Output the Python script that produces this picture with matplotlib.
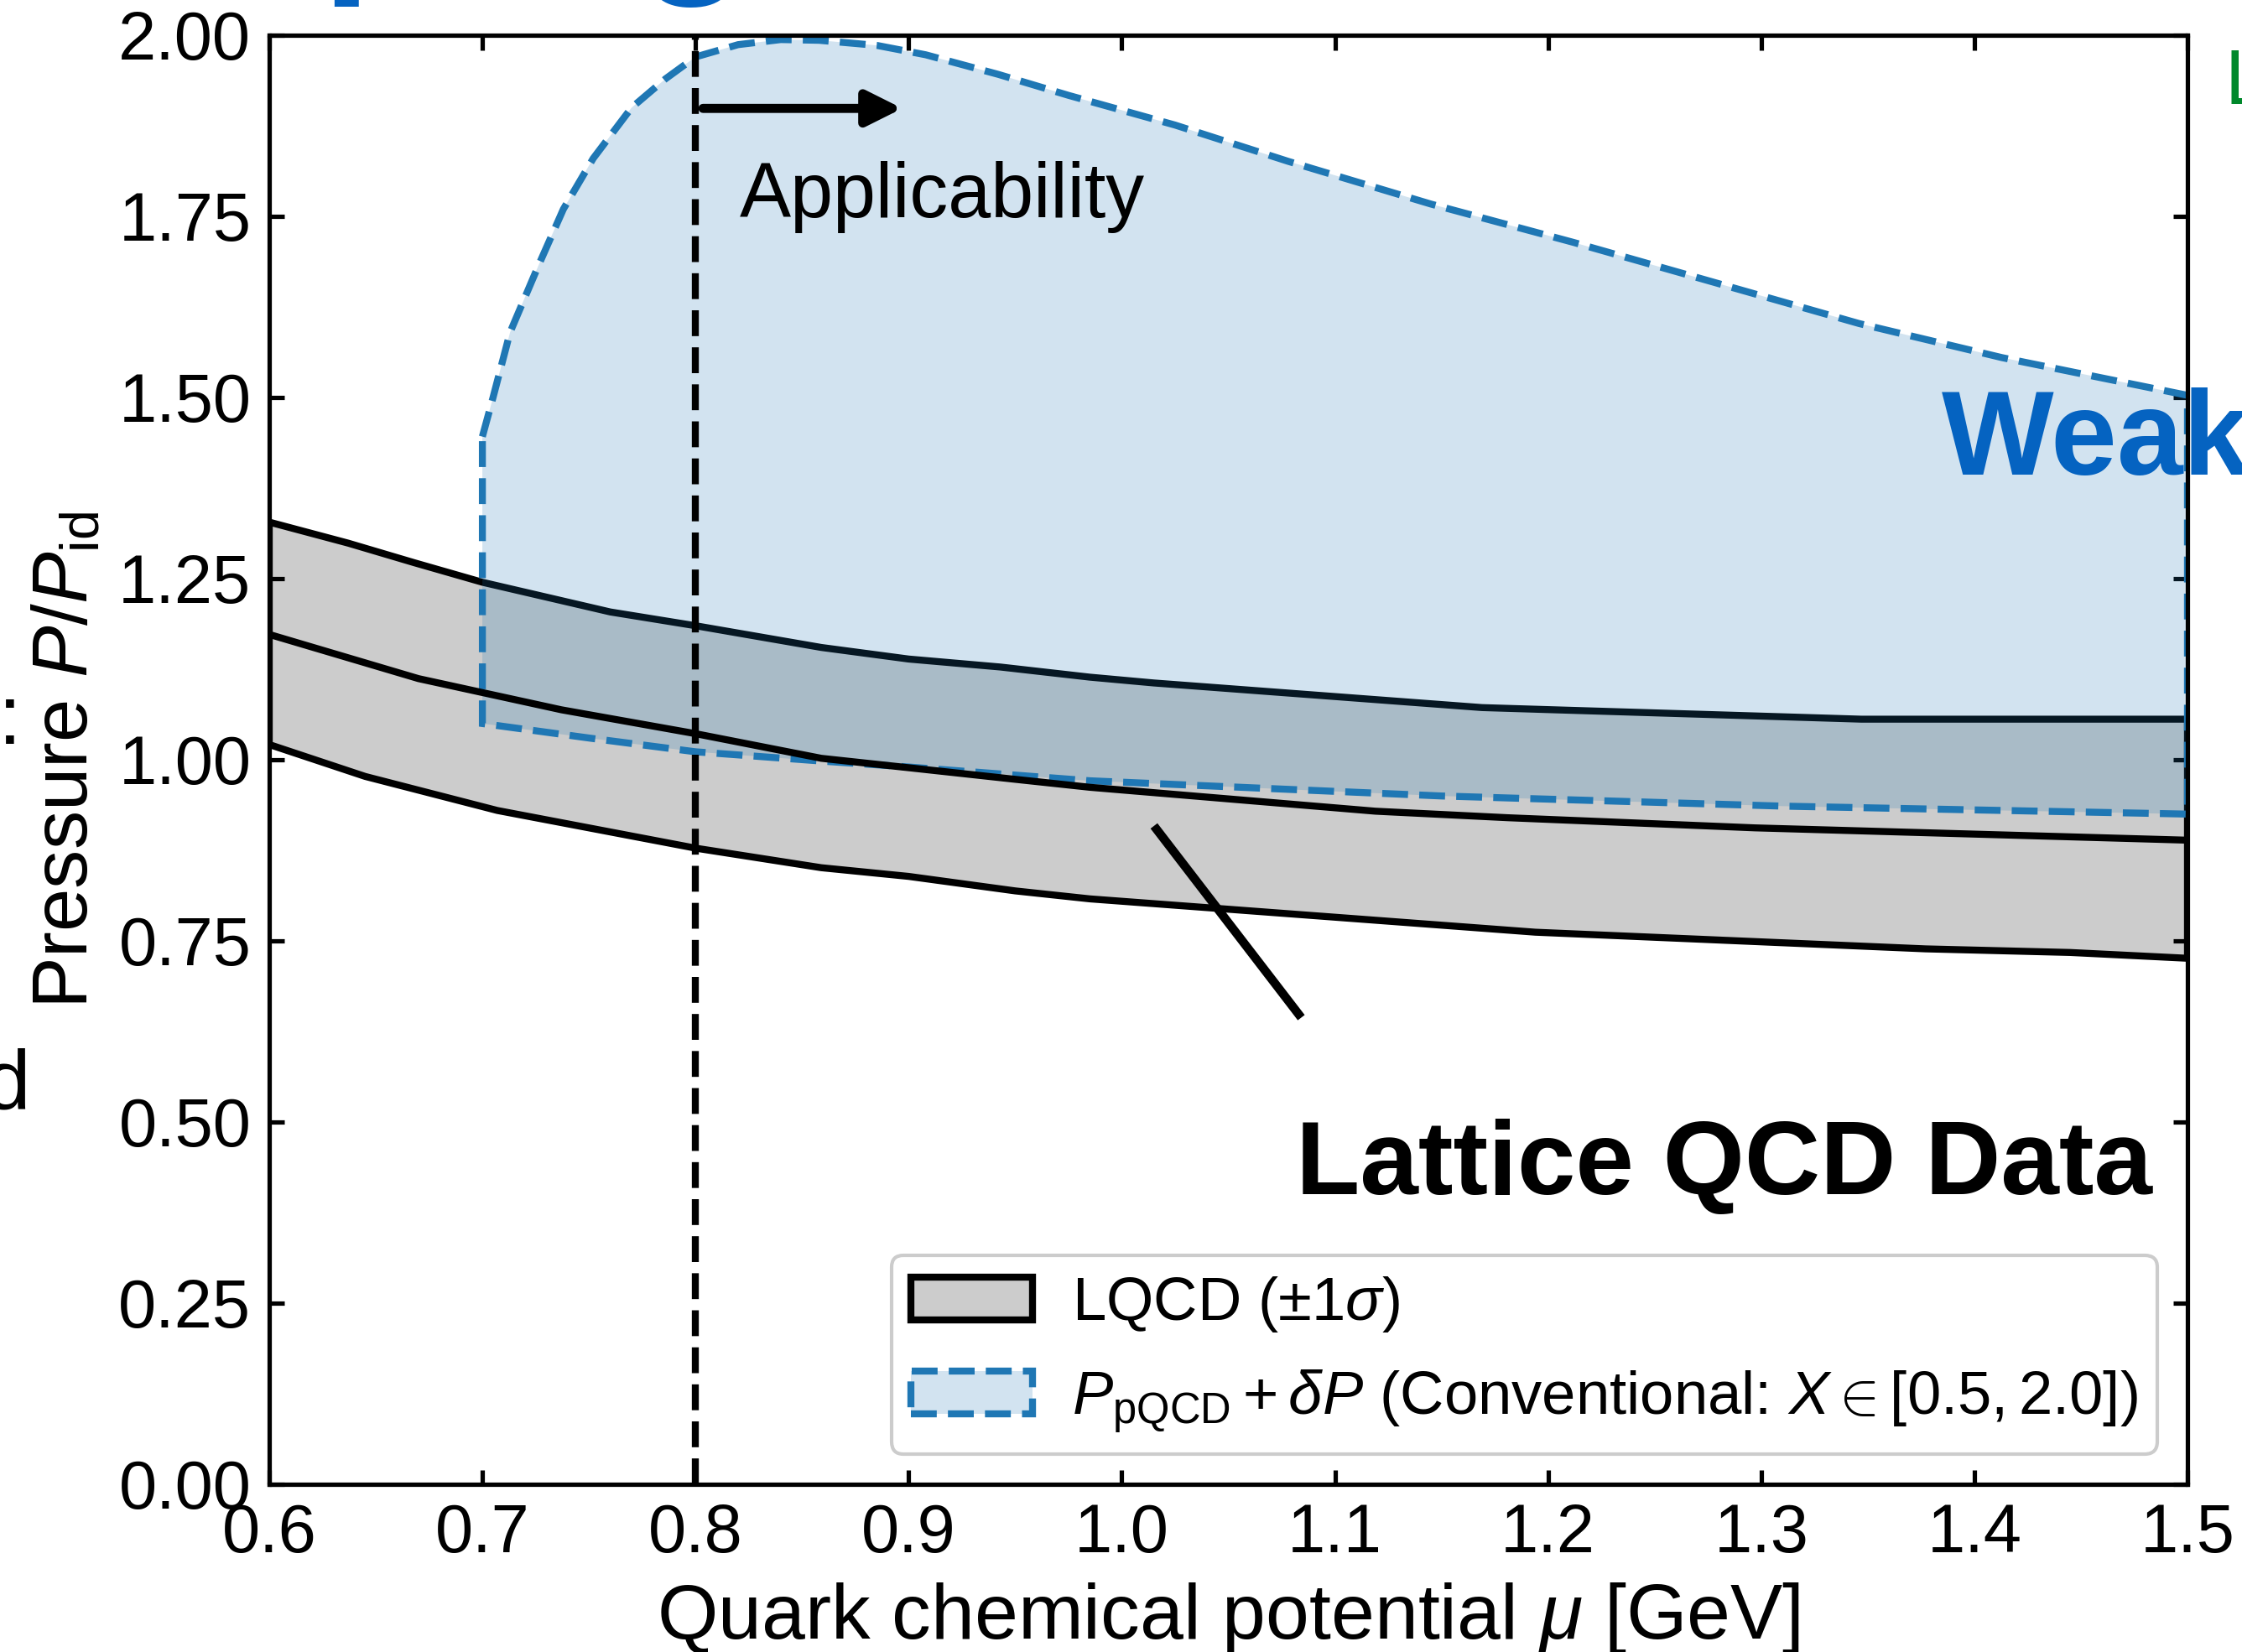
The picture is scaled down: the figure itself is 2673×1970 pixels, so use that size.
import matplotlib
matplotlib.use("Agg")
import matplotlib.pyplot as plt
import numpy as np

plt.rcParams['font.family'] = ['Liberation Sans', 'DejaVu Sans']
plt.rcParams['mathtext.fontset'] = 'custom'
plt.rcParams['mathtext.rm'] = 'Liberation Sans'
plt.rcParams['mathtext.it'] = 'Liberation Sans:italic'
plt.rcParams['mathtext.bf'] = 'Liberation Sans:bold'

# ---- Lattice QCD pressure band (P/P_id) ----
mu_lqcd_hi = [0.600, 0.637, 0.668, 0.700, 0.760, 0.800, 0.859, 0.900, 0.943,
              0.985, 1.015, 1.169, 1.347, 1.500]
p_lqcd_hi = [1.328, 1.299, 1.272, 1.245, 1.204, 1.185, 1.155, 1.139, 1.128,
             1.114, 1.106, 1.072, 1.056, 1.056]

mu_lqcd_mid = [0.600, 0.670, 0.737, 0.800, 0.859, 0.900, 0.950, 0.985,
               1.119, 1.181, 1.297, 1.500]
p_lqcd_mid = [1.173, 1.112, 1.069, 1.036, 1.002, 0.989, 0.973, 0.962,
              0.929, 0.920, 0.906, 0.889]

mu_lqcd_lo = [0.600, 0.645, 0.707, 0.800, 0.859, 0.900, 0.950, 0.985,
              1.194, 1.377, 1.445, 1.500]
p_lqcd_lo = [1.021, 0.977, 0.930, 0.878, 0.851, 0.839, 0.819, 0.808,
             0.762, 0.739, 0.734, 0.726]

# ---- pQCD + delta P band, conventional scale variation X in [0.5, 2] ----
mu_pqcd_hi = [0.700, 0.705, 0.713, 0.726, 0.738, 0.752, 0.770, 0.786, 0.800,
              0.820, 0.840, 0.858, 0.885, 0.908, 0.942, 0.975, 1.025, 1.078,
              1.145, 1.212, 1.279, 1.346, 1.413, 1.500]
p_pqcd_hi = [1.446, 1.500, 1.590, 1.680, 1.760, 1.830, 1.900, 1.940, 1.970,
             1.987, 1.994, 1.993, 1.986, 1.973, 1.946, 1.917, 1.876, 1.826,
             1.767, 1.714, 1.658, 1.602, 1.555, 1.503]

mu_pqcd_lo = [0.700, 0.750, 0.800, 0.860, 0.900, 0.985, 1.150, 1.310, 1.500]
p_pqcd_lo = [1.050, 1.030, 1.011, 0.998, 0.990, 0.971, 0.950, 0.936, 0.925]

mu_applicability = 0.8

x_ticks = [0.6, 0.7, 0.8, 0.9, 1.0, 1.1, 1.2, 1.3, 1.4, 1.5]
y_ticks = [0.00, 0.25, 0.50, 0.75, 1.00, 1.25, 1.50, 1.75, 2.00]

W, H = 2673, 1970
fig = plt.figure(figsize=(W / 300, H / 300), dpi=300)
ax = fig.add_axes([321 / W, (H - 1770) / H, 2287 / W, 1728 / H])

blue = '#1f77b4'
label_blue = '#0563C1'

# Lattice band (edges drawn by the polygon), central line on top later
band_lqcd = ax.fill(mu_lqcd_hi + mu_lqcd_lo[::-1], p_lqcd_hi + p_lqcd_lo[::-1],
                    facecolor='#cccccc', edgecolor='black', lw=2, zorder=1,
                    label=r'LQCD ($\pm1\sigma$)')[0]

# pQCD band on top of lattice band edges
band_pqcd = ax.fill(mu_pqcd_hi + mu_pqcd_lo[::-1], p_pqcd_hi + p_pqcd_lo[::-1],
                    facecolor=(0.122, 0.467, 0.706, 0.2), edgecolor=blue,
                    lw=2, ls='--', zorder=2,
                    label=r'$P_{\rm pQCD} + \delta P$ (Conventional: $X \in [0.5, 2.0]$)')[0]

ax.plot(mu_lqcd_mid, p_lqcd_mid, color='black', lw=2, zorder=3)

# Applicability boundary
ax.axvline(mu_applicability, color='black', ls='--', lw=2, zorder=4)
ax.annotate('', xy=(0.897, 1.899), xytext=(0.8035, 1.899),
            arrowprops=dict(arrowstyle='-|>', color='black', lw=2.6,
                            mutation_scale=21, shrinkA=0, shrinkB=0,
                            capstyle='round'), zorder=5)
ax.text(0.8208, 1.749, 'Applicability', fontsize=22, ha='left', va='baseline')

# Lattice label with pointer
ax.plot([1.0151, 1.0842], [0.9087, 0.6441], color='black', lw=2.5,
        solid_capstyle='butt', zorder=5)
ax.text(1.4835, 0.401, 'Lattice QCD Data', fontsize=30, fontweight='bold',
        ha='right', va='baseline')

ax.text(1.3847, 1.393, 'Weak', fontsize=34, fontweight='bold',
        color=label_blue, ha='left', va='baseline', clip_on=False)

ax.set_xlim(0.6, 1.5)
ax.set_ylim(0.0, 2.0)
ax.set_xticks(x_ticks)
ax.set_yticks(y_ticks)
ax.set_xticklabels([f'{v:.1f}' for v in x_ticks])
ax.set_yticklabels([f'{v:.2f}' for v in y_ticks])
ax.tick_params(direction='in', top=True, right=True, length=4.2, width=1.25,
               labelsize=19.5, pad=5.2)
for s in ax.spines.values():
    s.set_linewidth(1.25)

ax.set_xlabel(r'Quark chemical potential $\mu$ [GeV]', fontsize=22.4, labelpad=4.2)
ax.set_ylabel(r'Pressure $P/P_{\rm id}$', fontsize=22.2, labelpad=4.5)

ax.legend(handles=[band_lqcd, band_pqcd], loc='lower right', fontsize=17.4,
          frameon=True, fancybox=True, edgecolor='0.8', framealpha=1.0,
          borderpad=0.32, handletextpad=0.65, labelspacing=0.55)

# Neighbouring annotations that run off the figure edges
fig.text(-29 / W, 1 + 36 / H, 'Coupling', fontsize=51, fontweight='bold',
         color=label_blue, ha='left', va='baseline')
fig.text(2653 / W, 1 - 124 / H, 'LQCD', fontsize=22, color='#00882B',
         ha='left', va='baseline')
fig.text(26 / W, 1 - 887 / H, ':', fontsize=24, ha='right', va='baseline')
fig.text(36 / W, 1 - 1322 / H, 'd', fontsize=24, ha='right', va='baseline')

fig.savefig('out.png', dpi=300)
